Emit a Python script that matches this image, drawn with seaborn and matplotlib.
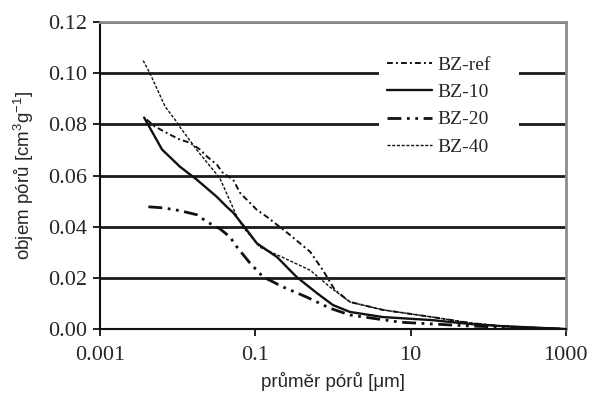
import pandas as pd
import seaborn as sns
import matplotlib
matplotlib.use("Agg")
from matplotlib import pyplot as plt

# pore diameter [um] and pore volume [cm3/g]
d_ref = [0.0040, 0.0051, 0.0080, 0.0107, 0.0144, 0.0194, 0.024, 0.032, 0.038, 0.052, 0.0635, 0.085,
         0.105, 0.141, 0.28, 0.51, 0.74, 1.06, 1.66, 4.4, 19, 58, 141, 1000]
v_ref = [0.0819, 0.0792, 0.0760, 0.0741, 0.0729, 0.0702, 0.0674, 0.0643, 0.0612, 0.0584, 0.0533, 0.0494,
         0.0466, 0.0439, 0.0368, 0.0302, 0.0231, 0.0153, 0.0106, 0.0075, 0.0047, 0.0024, 0.0012, 0.0]

d_10 = [0.0037, 0.0063, 0.0107, 0.0177, 0.032, 0.043, 0.052, 0.074, 0.105, 0.19, 0.34, 0.62, 1.0,
        1.66, 4.4, 19, 58, 141, 1000]
v_10 = [0.0827, 0.0702, 0.0635, 0.0584, 0.0517, 0.0478, 0.0455, 0.0396, 0.0335, 0.0282, 0.0204, 0.0141,
        0.0094, 0.0067, 0.0047, 0.0035, 0.0020, 0.0012, 0.0]

d_20 = [0.0042, 0.0065, 0.0107, 0.0177, 0.024, 0.035, 0.047, 0.058, 0.085, 0.126, 0.227, 0.46, 0.91,
        1.66, 7.3, 19, 58, 141, 1000]
v_20 = [0.0478, 0.0474, 0.0463, 0.0447, 0.0419, 0.0392, 0.0361, 0.0321, 0.0259, 0.0204, 0.0165, 0.0125,
        0.0082, 0.0055, 0.0027, 0.0020, 0.0012, 0.0008, 0.0]

d_40 = [0.0036, 0.0044, 0.0069, 0.0092, 0.0107, 0.0177, 0.035, 0.058, 0.069, 0.115, 0.227, 0.51, 0.91,
        1.66, 4.4, 19, 58, 141, 500, 1000]
v_40 = [0.105, 0.100, 0.087, 0.082, 0.079, 0.070, 0.059, 0.044, 0.040, 0.032, 0.028, 0.023, 0.0165,
        0.0106, 0.0075, 0.0047, 0.0024, 0.0012, 0.0003, 0.0]

series = ["BZ-ref", "BZ-10", "BZ-20", "BZ-40"]
xticks = [0.001, 0.1, 10, 1000]
xtick_labels = ["0.001", "0.1", "10", "1000"]
yticks = [0.0, 0.02, 0.04, 0.06, 0.08, 0.10, 0.12]

dfs = []
for name, d, v in zip(series, [d_ref, d_10, d_20, d_40], [v_ref, v_10, v_20, v_40]):
    dfs.append(pd.DataFrame({"d": d, "v": v, "sample": name}))
data = pd.concat(dfs, ignore_index=True)

sns.set_style("ticks")
plt.rcParams["font.family"] = ["Liberation Serif", "DejaVu Serif"]
plt.rcParams["mathtext.fontset"] = "custom"
plt.rcParams["mathtext.rm"] = "Liberation Sans"

styles = {
    "BZ-ref": dict(dashes=(3, 1.6, 1, 1.6), lw=1.4),
    "BZ-10": dict(dashes=(None, None), lw=1.7),
    "BZ-20": dict(dashes=(5, 2, 1, 2, 1, 2), lw=2.0),
    "BZ-40": dict(dashes=(2.2, 1.2), lw=1.0),
}

fig, ax = plt.subplots(figsize=(5.9, 3.96), dpi=100)
fig.subplots_adjust(left=0.1695, right=0.959, bottom=0.169, top=0.944)

for name in series:
    st = styles[name]
    line_ax = sns.lineplot(data=data[data["sample"] == name], x="d", y="v", color="#111111",
                           lw=st["lw"], label=name, ax=ax, estimator=None, sort=False)
    ln = line_ax.get_lines()[-1]
    if st["dashes"][0] is not None:
        ln.set_dashes(st["dashes"])

ax.set_xscale("log")
ax.set_xlim(0.001, 1000)
ax.set_ylim(0, 0.12)
ax.set_xticks(xticks)
ax.set_xticklabels(xtick_labels)
ax.minorticks_off()
ax.set_yticks(yticks)
ax.set_yticklabels([f"{t:.2f}" for t in yticks])
ax.tick_params(axis="both", labelsize=16, length=5, width=1.3, color="#111111", pad=4)
ax.tick_params(axis="x", pad=7)

ax.yaxis.grid(True, color="#1a1a1a", lw=2.0)
ax.set_axisbelow(True)
for s in ["left", "bottom"]:
    ax.spines[s].set_color("#111111")
    ax.spines[s].set_linewidth(1.5)
for s in ["top", "right"]:
    ax.spines[s].set_color("#8c8c8c")
    ax.spines[s].set_linewidth(2.0)

ax.set_xlabel("průměr pórů [μm]", family=["Liberation Sans", "DejaVu Sans"], fontsize=13.5, labelpad=5)
ax.set_ylabel("objem pórů [cm$^{3}$g$^{-1}$]", family=["Liberation Sans", "DejaVu Sans"], fontsize=13.5,
              labelpad=9)

leg = ax.legend(loc="upper left", bbox_to_anchor=(0.6, 0.915, 0.3, 0.0), mode="expand", fontsize=14,
                frameon=True, facecolor="white", edgecolor="none", framealpha=1, fancybox=False,
                handlelength=2.3, handletextpad=0.3, labelspacing=0.5, borderpad=0.4, borderaxespad=0)

fig.savefig("out.png", dpi=100)
